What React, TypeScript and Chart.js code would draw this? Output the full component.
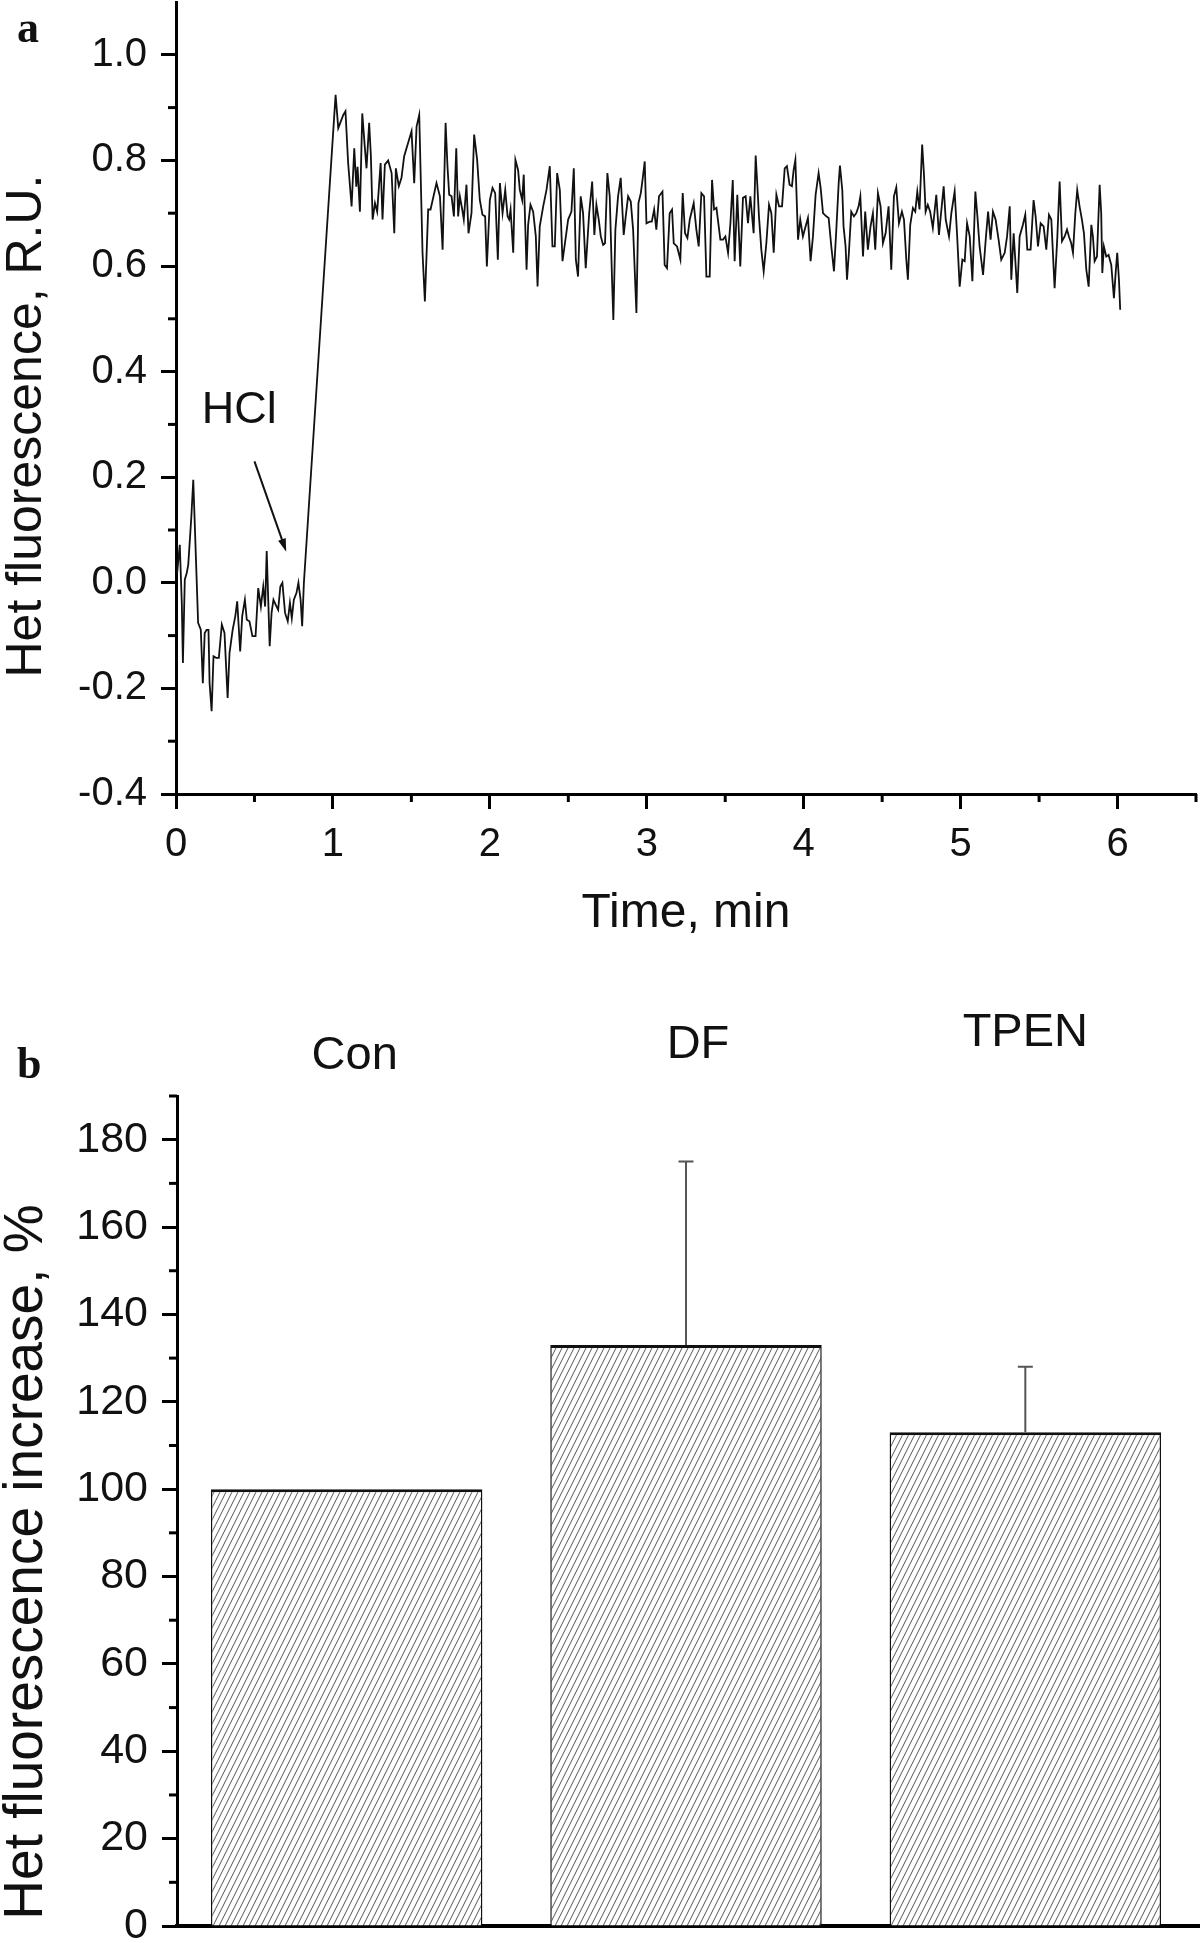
import React, { useEffect, useRef } from "react";
import { Chart, registerables } from "chart.js";

Chart.register(...registerables);

// ---------- Panel a: Het fluorescence trace ----------
const timeMin: number[] = [
  // baseline before HCl
  0.007, 0.024, 0.037, 0.044, 0.056, 0.068, 0.078, 0.098, 0.110, 0.141,
  0.158, 0.171, 0.183, 0.195, 0.207, 0.214, 0.227, 0.239, 0.256, 0.273,
  0.292, 0.309, 0.329, 0.341, 0.361, 0.378, 0.390, 0.409, 0.422, 0.439,
  0.451, 0.468, 0.487, 0.507, 0.524, 0.541, 0.556, 0.568, 0.578, 0.597,
  0.609, 0.621, 0.634, 0.651, 0.665, 0.678, 0.695, 0.712, 0.726, 0.738,
  0.751, 0.768, 0.780, 0.794, 0.804, 0.815,
  // rise and plateau
  1.017, 1.034, 1.066, 1.080, 1.097, 1.119, 1.136, 1.149, 1.157, 1.172,
  1.187,
  1.202, 1.214, 1.231, 1.242, 1.253, 1.268, 1.282, 1.304, 1.316, 1.331,
  1.352, 1.374, 1.391, 1.401, 1.420, 1.437, 1.454, 1.501, 1.518, 1.533,
  1.550, 1.571, 1.586, 1.607, 1.622, 1.660, 1.682, 1.699, 1.718, 1.730,
  1.741, 1.756, 1.771, 1.786, 1.798, 1.809, 1.824, 1.834, 1.851, 1.864,
  1.883, 1.900, 1.919, 1.936, 1.953, 1.970, 1.981, 2.000, 2.017, 2.034,
  2.051, 2.064, 2.081, 2.098, 2.113, 2.123, 2.132, 2.149, 2.163, 2.180,
  2.191, 2.206, 2.216, 2.234, 2.244, 2.259, 2.276, 2.293, 2.304, 2.318,
  2.340, 2.361, 2.382,
  2.399, 2.414, 2.429, 2.446, 2.463, 2.499, 2.520, 2.535, 2.548, 2.562,
  2.579, 2.594, 2.611, 2.633, 2.652, 2.666, 2.679, 2.694, 2.707, 2.722,
  2.734, 2.749, 2.764, 2.779, 2.787, 2.800, 2.817, 2.834, 2.853, 2.866,
  2.881, 2.898, 2.913, 2.934, 2.947, 2.962, 2.976, 2.987, 2.998, 3.019,
  3.032, 3.047, 3.061, 3.078, 3.100, 3.114, 3.129, 3.146, 3.161, 3.172,
  3.193, 3.214, 3.229, 3.244, 3.259, 3.274, 3.299, 3.316, 3.331, 3.348,
  3.365, 3.380, 3.401, 3.416, 3.429, 3.444, 3.469, 3.486, 3.501, 3.518,
  3.533, 3.548, 3.560, 3.577, 3.596,
  3.613, 3.630, 3.645, 3.660, 3.681, 3.694, 3.705, 3.715, 3.730, 3.745,
  3.762, 3.779, 3.794, 3.809, 3.826, 3.843, 3.862, 3.879, 3.893, 3.910,
  3.925, 3.936, 3.947, 3.964, 3.978, 3.995, 4.012, 4.027, 4.044, 4.059,
  4.076, 4.095, 4.108, 4.123, 4.144, 4.159, 4.176, 4.193, 4.208, 4.223,
  4.231, 4.246, 4.254, 4.267, 4.276, 4.288, 4.303, 4.320, 4.335, 4.350,
  4.361, 4.378, 4.392, 4.409, 4.426, 4.441, 4.456, 4.473, 4.490, 4.505,
  4.522, 4.541, 4.558, 4.575, 4.590, 4.607, 4.626, 4.639, 4.654, 4.664,
  4.679, 4.696, 4.711, 4.724, 4.738, 4.755, 4.766, 4.777, 4.791, 4.806,
  4.823, 4.845,
  4.862, 4.892, 4.905, 4.926, 4.941, 4.962, 4.977, 4.994, 5.011, 5.026,
  5.041, 5.058, 5.075, 5.094, 5.107, 5.121, 5.143, 5.160, 5.175, 5.191,
  5.206, 5.223, 5.242, 5.259, 5.281, 5.296, 5.313, 5.323, 5.338, 5.351,
  5.361, 5.376, 5.397, 5.412, 5.425, 5.446, 5.465, 5.478, 5.493, 5.510,
  5.529, 5.546, 5.563, 5.578, 5.599, 5.616, 5.631, 5.646, 5.663, 5.678,
  5.690, 5.705, 5.716, 5.731, 5.743, 5.758, 5.773, 5.786, 5.801, 5.816,
  5.833, 5.843, 5.854, 5.869, 5.886, 5.896, 5.903, 5.913, 5.928, 5.943,
  5.960, 5.977, 5.988, 5.998, 6.009, 6.017,
];

const fluorescence: number[] = [
  0.018, 0.072, -0.038, -0.152, 0.006, 0.018, 0.034, 0.126, 0.195, -0.076,
  -0.089, -0.190, -0.095, -0.089, -0.089, -0.190, -0.243, -0.139, -0.142, -0.142,
  -0.079, -0.095, -0.218, -0.133, -0.089, -0.063, -0.035, -0.130, -0.063, -0.032,
  -0.070, -0.073, -0.101, -0.101, -0.010, -0.045, -0.007, -0.045, 0.060, -0.120,
  -0.057, -0.032, -0.041, -0.051, -0.007, 0.000, -0.057, -0.073, -0.038, -0.067,
  -0.032, -0.019, 0.000, -0.032, -0.082, 0.000,
  0.924, 0.861, 0.886, 0.893, 0.795, 0.713, 0.823, 0.750, 0.788, 0.703,
  0.889,
  0.830, 0.785, 0.871, 0.808, 0.688, 0.719, 0.703, 0.795, 0.688, 0.792,
  0.800, 0.776, 0.662, 0.785, 0.751, 0.767, 0.808, 0.855, 0.757, 0.864,
  0.886, 0.625, 0.533, 0.707, 0.707, 0.757, 0.732, 0.631, 0.871, 0.789,
  0.735, 0.732, 0.694, 0.823, 0.694, 0.732, 0.707, 0.688, 0.754, 0.662,
  0.700, 0.849, 0.801, 0.725, 0.697, 0.694, 0.599, 0.725, 0.748, 0.738,
  0.612, 0.757, 0.700, 0.744, 0.694, 0.688, 0.707, 0.625, 0.801, 0.782,
  0.744, 0.725, 0.773, 0.593, 0.678, 0.716, 0.703, 0.656, 0.561, 0.675,
  0.713, 0.744, 0.789,
  0.637, 0.637, 0.776, 0.744, 0.609, 0.688, 0.703, 0.785, 0.612, 0.580,
  0.732, 0.700, 0.596, 0.700, 0.760, 0.659, 0.716, 0.688, 0.656, 0.640,
  0.643, 0.776, 0.732, 0.571, 0.498, 0.669, 0.732, 0.767, 0.659, 0.694,
  0.732, 0.722, 0.669, 0.511, 0.719, 0.738, 0.770, 0.798, 0.681, 0.684,
  0.684, 0.707, 0.669, 0.732, 0.741, 0.602, 0.596, 0.700, 0.707, 0.643,
  0.637, 0.612, 0.738, 0.662, 0.653, 0.688, 0.719, 0.669, 0.637, 0.738,
  0.732, 0.580, 0.580, 0.763, 0.707, 0.710, 0.650, 0.650, 0.656, 0.625,
  0.681, 0.763, 0.609, 0.735, 0.599,
  0.729, 0.732, 0.681, 0.732, 0.662, 0.809, 0.751, 0.694, 0.631, 0.590,
  0.643, 0.716, 0.700, 0.625, 0.735, 0.713, 0.713, 0.785, 0.789, 0.754,
  0.751, 0.782, 0.801, 0.650, 0.688, 0.656, 0.675, 0.691, 0.609, 0.656,
  0.735, 0.776, 0.748, 0.700, 0.694, 0.691, 0.637, 0.590, 0.669, 0.757,
  0.790, 0.744, 0.675, 0.637, 0.574, 0.625, 0.703, 0.694, 0.700, 0.713,
  0.732, 0.618, 0.703, 0.631, 0.675, 0.700, 0.631, 0.738, 0.713, 0.643,
  0.662, 0.713, 0.593, 0.732, 0.749, 0.681, 0.703, 0.688, 0.612, 0.574,
  0.678, 0.710, 0.703, 0.741, 0.707, 0.830, 0.776, 0.703, 0.716, 0.703,
  0.672, 0.735,
  0.659, 0.751, 0.688, 0.656, 0.700, 0.741, 0.662, 0.561, 0.612, 0.609,
  0.681, 0.656, 0.571, 0.741, 0.694, 0.637, 0.583, 0.650, 0.703, 0.650,
  0.703, 0.688, 0.650, 0.612, 0.625, 0.656, 0.713, 0.574, 0.662, 0.599,
  0.549, 0.656, 0.678, 0.697, 0.631, 0.631, 0.725, 0.694, 0.637, 0.681,
  0.675, 0.631, 0.697, 0.688, 0.558, 0.653, 0.760, 0.647, 0.656, 0.669,
  0.656, 0.643, 0.625, 0.700, 0.744, 0.713, 0.688, 0.662, 0.593, 0.561,
  0.678, 0.656, 0.609, 0.618, 0.754, 0.700, 0.587, 0.637, 0.618, 0.621,
  0.602, 0.539, 0.587, 0.625, 0.574, 0.517,
];

const xTicksA = [0, 1, 2, 3, 4, 5, 6];
const xMinorA = [0.5, 1.5, 2.5, 3.5, 4.5, 5.5, 6.5];
const yTicksA = [-0.4, -0.2, 0, 0.2, 0.4, 0.6, 0.8, 1.0];
const yMinorA = [-0.3, -0.1, 0.1, 0.3, 0.5, 0.7, 0.9];

// ---------- Panel b: bar chart ----------
const categories = ["Con", "DF", "TPEN"];
const barValues = [100, 133, 113];
const barErrors = [0, 42, 15];
const yTicksB = [0, 20, 40, 60, 80, 100, 120, 140, 160, 180];
const yMinorB = [10, 30, 50, 70, 90, 110, 130, 150, 170, 190];

const titleA = "Het fluorescence, R.U.";
const titleB = "Het fluorescence increase, %";

const SANS = '"Liberation Sans", Arial, Helvetica, sans-serif';
const SERIF = '"Liberation Serif", "Times New Roman", serif';

function minorTicks(xVals: number[], yVals: number[], len: number) {
  return {
    id: "minorTicks",
    afterDraw(chart: any) {
      const { ctx, chartArea } = chart;
      const xs = chart.scales.x;
      const ys = chart.scales.y;
      ctx.save();
      ctx.strokeStyle = "#000";
      ctx.lineWidth = 3;
      xVals.forEach((v) => {
        const px = xs.getPixelForValue(v);
        ctx.beginPath();
        ctx.moveTo(px, chartArea.bottom);
        ctx.lineTo(px, chartArea.bottom + len);
        ctx.stroke();
      });
      yVals.forEach((v) => {
        const py = ys.getPixelForValue(v);
        ctx.beginPath();
        ctx.moveTo(chartArea.left, py);
        ctx.lineTo(chartArea.left - len, py);
        ctx.stroke();
      });
      ctx.restore();
    },
  };
}

function drawVerticalTitle(ctx: CanvasRenderingContext2D, text: string, cx: number, cy: number, size: number) {
  ctx.save();
  ctx.translate(cx, cy);
  ctx.rotate(-Math.PI / 2);
  ctx.fillStyle = "#111";
  ctx.font = `${size}px ${SANS}`;
  ctx.textAlign = "center";
  ctx.textBaseline = "middle";
  ctx.fillText(text, 0, 0);
  ctx.restore();
}

const annotationA = {
  id: "annotationA",
  afterDatasetsDraw(chart: any) {
    const { ctx } = chart;
    const xs = chart.scales.x;
    const ys = chart.scales.y;
    ctx.save();
    ctx.fillStyle = "#111";
    ctx.font = `45px ${SANS}`;
    ctx.textAlign = "center";
    ctx.textBaseline = "middle";
    ctx.fillText("HCl", xs.getPixelForValue(0.403), ys.getPixelForValue(0.326));
    const x1 = xs.getPixelForValue(0.5);
    const y1 = ys.getPixelForValue(0.23);
    const x2 = xs.getPixelForValue(0.7025);
    const y2 = ys.getPixelForValue(0.059);
    const ang = Math.atan2(y2 - y1, x2 - x1);
    ctx.strokeStyle = "#111";
    ctx.lineWidth = 2;
    ctx.beginPath();
    ctx.moveTo(x1, y1);
    ctx.lineTo(x2 - 8 * Math.cos(ang), y2 - 8 * Math.sin(ang));
    ctx.stroke();
    ctx.beginPath();
    ctx.moveTo(x2, y2);
    ctx.lineTo(x2 - 13 * Math.cos(ang) + 4 * Math.sin(ang), y2 - 13 * Math.sin(ang) - 4 * Math.cos(ang));
    ctx.lineTo(x2 - 13 * Math.cos(ang) - 4 * Math.sin(ang), y2 - 13 * Math.sin(ang) + 4 * Math.cos(ang));
    ctx.closePath();
    ctx.fill();
    ctx.font = `bold 44px ${SERIF}`;
    ctx.textAlign = "left";
    ctx.textBaseline = "alphabetic";
    ctx.fillText("a", 17, 42);
    ctx.restore();
    drawVerticalTitle(ctx, titleA, 27, 426, 50);
  },
};

const decorationsB = {
  id: "decorationsB",
  afterDatasetsDraw(chart: any) {
    const { ctx, chartArea } = chart;
    const xs = chart.scales.x;
    const ys = chart.scales.y;
    const meta = chart.getDatasetMeta(0);
    ctx.save();
    // error bars (upper only)
    ctx.strokeStyle = "#555";
    ctx.lineWidth = 2;
    barValues.forEach((v, i) => {
      const e = barErrors[i];
      if (!e) return;
      const x = meta.data[i].x;
      const yTop = ys.getPixelForValue(v + e);
      const yBar = ys.getPixelForValue(v);
      ctx.beginPath();
      ctx.moveTo(x, yBar);
      ctx.lineTo(x, yTop);
      ctx.moveTo(x - 7.5, yTop);
      ctx.lineTo(x + 7.5, yTop);
      ctx.stroke();
    });
    // x axis line runs on to the right edge of the figure
    ctx.strokeStyle = "#000";
    ctx.lineWidth = 4;
    const y0 = ys.getPixelForValue(0);
    ctx.beginPath();
    ctx.moveTo(chartArea.right - 2, y0);
    ctx.lineTo(chart.width, y0);
    ctx.stroke();
    // category labels above the bars
    const labelDX = [8, 12, 0];
    const labelY = [96, 85, 73];
    ctx.fillStyle = "#111";
    ctx.font = `47px ${SANS}`;
    ctx.textAlign = "center";
    ctx.textBaseline = "middle";
    categories.forEach((c, i) => {
      ctx.fillText(c, xs.getPixelForValue(i) + labelDX[i], labelY[i]);
    });
    ctx.font = `bold 44px ${SERIF}`;
    ctx.textAlign = "left";
    ctx.textBaseline = "alphabetic";
    ctx.fillText("b", 17, 118);
    ctx.restore();
    drawVerticalTitle(ctx, titleB, 27, 602, 55);
  },
};

function makeHatch(): CanvasPattern | string {
  const tile = document.createElement("canvas");
  tile.width = 6;
  tile.height = 12;
  const c = tile.getContext("2d");
  if (!c) return "#fff";
  c.fillStyle = "#fff";
  c.fillRect(0, 0, 6, 12);
  c.strokeStyle = "#555";
  c.lineWidth = 1;
  const seg = (ox: number) => {
    c.beginPath();
    c.moveTo(ox - 1, 14);
    c.lineTo(ox + 7, -2);
    c.stroke();
  };
  seg(-6);
  seg(0);
  seg(6);
  const p = c.createPattern(tile, "repeat");
  return p || "#fff";
}

const fitY = (w: number) => (s: any) => {
  s.width = w;
  s.paddingTop = 0;
  s.paddingBottom = 0;
};
const fitX = (h: number) => (s: any) => {
  s.height = h;
  s.paddingLeft = 0;
  s.paddingRight = 0;
};

export default function App() {
  const refA = useRef<HTMLCanvasElement | null>(null);
  const refB = useRef<HTMLCanvasElement | null>(null);

  useEffect(() => {
    if (!refA.current || !refB.current) return;
    const n = Math.min(timeMin.length, fluorescence.length);
    const points = [];
    for (let i = 0; i < n; i++) points.push({ x: timeMin[i], y: fluorescence[i] });

    const chartA = new Chart(refA.current, {
      type: "line",
      data: {
        datasets: [
          {
            label: titleA,
            data: points,
            borderColor: "#111",
            borderWidth: 1.8,
            pointRadius: 0,
            tension: 0,
            fill: false,
          },
        ],
      },
      options: {
        animation: false,
        responsive: false,
        maintainAspectRatio: false,
        layout: { padding: { left: 0, top: 2, right: 4, bottom: 0 } },
        plugins: { legend: { display: false }, tooltip: { enabled: false } },
        scales: {
          x: {
            type: "linear",
            min: 0,
            max: 6.5,
            afterBuildTicks: (s: any) => {
              s.ticks = xTicksA.map((v) => ({ value: v }));
            },
            afterFit: fitX(149),
            grid: { display: true, drawOnChartArea: false, drawTicks: true, tickLength: 15, tickWidth: 3, tickColor: "#000" },
            border: { display: true, color: "#000", width: 3 },
            ticks: { color: "#111", font: { family: SANS, size: 40 }, padding: 12, maxRotation: 0, autoSkip: false, callback: (v: any) => String(v) },
            title: { display: true, text: "Time, min", color: "#111", font: { family: SANS, size: 48, lineHeight: 1 }, padding: { top: 0, bottom: 5 } },
          },
          y: {
            type: "linear",
            min: -0.4,
            max: 1.1,
            afterBuildTicks: (s: any) => {
              s.ticks = yTicksA.map((v) => ({ value: v }));
            },
            afterFit: fitY(176),
            grid: { display: true, drawOnChartArea: false, drawTicks: true, tickLength: 15, tickWidth: 3, tickColor: "#000" },
            border: { display: true, color: "#000", width: 3 },
            ticks: { color: "#111", font: { family: SANS, size: 40 }, padding: 14, autoSkip: false, callback: (v: any) => Number(v).toFixed(1) },
            title: { display: false, text: titleA },
          },
        },
      },
      plugins: [minorTicks(xMinorA, yMinorA, 8), annotationA],
    } as any);

    const hatch = makeHatch();
    const chartB = new Chart(refB.current, {
      type: "bar",
      data: {
        labels: categories,
        datasets: [
          {
            label: titleB,
            data: barValues,
            backgroundColor: hatch,
            borderColor: "#111",
            borderWidth: { top: 3, left: 1.5, right: 1.5, bottom: 0 },
            barPercentage: 0.8,
            categoryPercentage: 1.0,
          },
        ],
      },
      options: {
        animation: false,
        responsive: false,
        maintainAspectRatio: false,
        layout: { padding: { left: 0, top: 136, right: 5, bottom: 0 } },
        plugins: { legend: { display: false }, tooltip: { enabled: false } },
        scales: {
          x: {
            type: "category",
            z: 1,
            afterFit: fitX(17),
            grid: { display: false },
            border: { display: true, color: "#000", width: 4 },
            ticks: { display: false },
          },
          y: {
            type: "linear",
            min: 0,
            max: 190,
            afterBuildTicks: (s: any) => {
              s.ticks = yTicksB.map((v) => ({ value: v }));
            },
            afterFit: fitY(177),
            grid: { display: true, drawOnChartArea: false, drawTicks: true, tickLength: 15, tickWidth: 3, tickColor: "#000" },
            border: { display: true, color: "#000", width: 3 },
            ticks: { color: "#111", font: { family: SANS, size: 43 }, padding: 14, autoSkip: false, callback: (v: any) => String(v) },
            title: { display: false, text: titleB },
          },
        },
      },
      plugins: [minorTicks([], yMinorB, 8), decorationsB],
    } as any);

    return () => {
      chartA.destroy();
      chartB.destroy();
    };
  }, []);

  return (
    <div style={{ position: "absolute", left: 0, top: 0, width: 1200, height: 1943, background: "#fff" }}>
      <canvas ref={refA} width={1200} height={943} style={{ position: "absolute", left: 0, top: 0, display: "block" }} />
      <canvas ref={refB} width={1200} height={983} style={{ position: "absolute", left: 0, top: 960, display: "block" }} />
    </div>
  );
}
